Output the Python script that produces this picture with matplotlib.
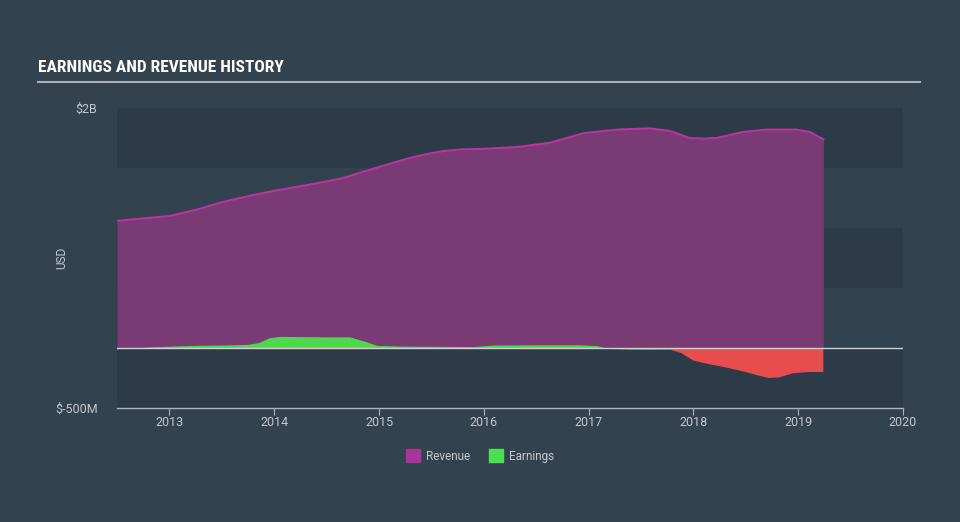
import matplotlib
matplotlib.use("Agg")
import matplotlib.pyplot as plt
from matplotlib.patches import Patch
from matplotlib import font_manager
import numpy as np

# revenue (USD, billions)
rev_years = [2012.5, 2013.0, 2013.25, 2013.5, 2013.75, 2014.0, 2014.2, 2014.45, 2014.65,
             2014.93, 2015.1, 2015.28, 2015.45, 2015.6, 2015.79, 2016.0, 2016.32, 2016.63,
             2016.95, 2017.27, 2017.58, 2017.77, 2017.87, 2017.96, 2018.1, 2018.22,
             2018.35, 2018.47, 2018.7, 2018.98, 2019.11, 2019.24]
revenue = [1.06, 1.10, 1.15, 1.215, 1.265, 1.31, 1.34, 1.38, 1.415,
           1.49, 1.535, 1.58, 1.615, 1.64, 1.655, 1.66, 1.675, 1.71,
           1.79, 1.82, 1.83, 1.81, 1.78, 1.75, 1.745, 1.75,
           1.775, 1.80, 1.82, 1.82, 1.80, 1.74]

# earnings (USD, billions)
earn_years = [2012.5, 2012.65, 2012.8, 2013.0, 2013.25, 2013.5, 2013.75, 2013.85, 2013.95,
              2014.05, 2014.25, 2014.5, 2014.72, 2014.85, 2014.98, 2015.2, 2015.5, 2015.9,
              2016.1, 2016.5, 2016.9, 2017.08, 2017.2, 2017.4, 2017.6, 2017.78, 2017.88,
              2018.0, 2018.15, 2018.3, 2018.5, 2018.62, 2018.72, 2018.82, 2018.95, 2019.1, 2019.24]
earnings = [-0.012, 0.0, 0.008, 0.015, 0.022, 0.025, 0.03, 0.045, 0.085,
            0.097, 0.095, 0.093, 0.093, 0.06, 0.022, 0.016, 0.014, 0.012,
            0.025, 0.027, 0.027, 0.02, -0.008, -0.015, -0.017, -0.015, -0.04,
            -0.105, -0.135, -0.16, -0.20, -0.23, -0.25, -0.245, -0.21, -0.20, -0.20]

year_ticks = [2013, 2014, 2015, 2016, 2017, 2018, 2019, 2020]

bg = "#33424f"
band = "#2d3b49"
txt = "#c3c9cf"

# pick a narrow face for the title if one is installed
names = {f.name for f in font_manager.fontManager.ttflist}
title_font = "Roboto"
for cand in ["Roboto Condensed", "Open Sans Condensed", "DejaVu Sans Condensed",
             "Liberation Sans Narrow"]:
    if cand in names:
        title_font = cand
        break

fig = plt.figure(figsize=(9.6, 5.22), dpi=100, facecolor=bg)
ax = fig.add_axes([117/960, 1-408/522, (903-117)/960, 300/522])
ax.set_facecolor("none")

for lo, hi in [(1.5, 2.0), (0.5, 1.0), (-0.5, 0.0)]:
    ax.axhspan(lo, hi, color=band, lw=0, zorder=0)

ax.fill_between(rev_years, 0, revenue, color="#7a3a74", lw=0, zorder=2)
ax.plot(rev_years, revenue, color="#b2379e", lw=1.5, zorder=3)

ey = np.array(earn_years)
ev = np.array(earnings)
ax.fill_between(ey, 0, ev, where=ev >= 0, interpolate=True, color="#4fd64f", lw=0, zorder=4)
ax.fill_between(ey, 0, ev, where=ev <= 0, interpolate=True, color="#e84d4d", lw=0, zorder=4)

ax.axhline(0, color="#cdd2d6", lw=1, zorder=5)

ax.set_xlim(2012.5, 2020)
ax.set_ylim(-0.5, 2.0)
ax.set_xticks(year_ticks)
ax.set_xticklabels([str(y) for y in year_ticks])
ax.set_yticks([-0.5, 2.0])
ax.set_yticklabels(["$-500M", "$2B"])
ax.tick_params(axis="y", length=0, colors=txt, labelsize=9, pad=14)
ax.tick_params(axis="x", length=5, width=0.8, color="#aab4bd", colors=txt, labelsize=9, pad=1)
for s in ["top", "right", "left"]:
    ax.spines[s].set_visible(False)
ax.spines["bottom"].set_color("#aab4bd")
ax.spines["bottom"].set_linewidth(1)
for lab in ax.get_xticklabels() + ax.get_yticklabels():
    lab.set_family("Roboto")
    lab.set_color(txt)

fig.text(62/960, 1-258/522, "USD", rotation=90, color=txt, fontsize=8.5,
         family="Roboto", ha="center", va="center")

title_size = 11 if title_font == "Roboto" else 12.5
fig.text(38/960, 1-68/522, "EARNINGS AND REVENUE HISTORY", color="white", fontsize=title_size,
         fontweight="bold", family=title_font, ha="left", va="center")
fig.add_artist(plt.Line2D([38/960, 920/960], [1-82/522, 1-82/522], color="#a9b0b7", lw=1.5))

handles = [Patch(color="#a8359a", label="Revenue"), Patch(color="#4be04f", label="Earnings")]
leg = fig.legend(handles=handles, loc="center", bbox_to_anchor=(0.5, 1-456/522), ncol=2,
                 frameon=False, fontsize=8.5, handlelength=1.2, handleheight=1.2,
                 handletextpad=0.5, columnspacing=1.6)
for t in leg.get_texts():
    t.set_color(txt)
    t.set_family("Roboto")

fig.savefig("out.png", dpi=100, facecolor=bg)
